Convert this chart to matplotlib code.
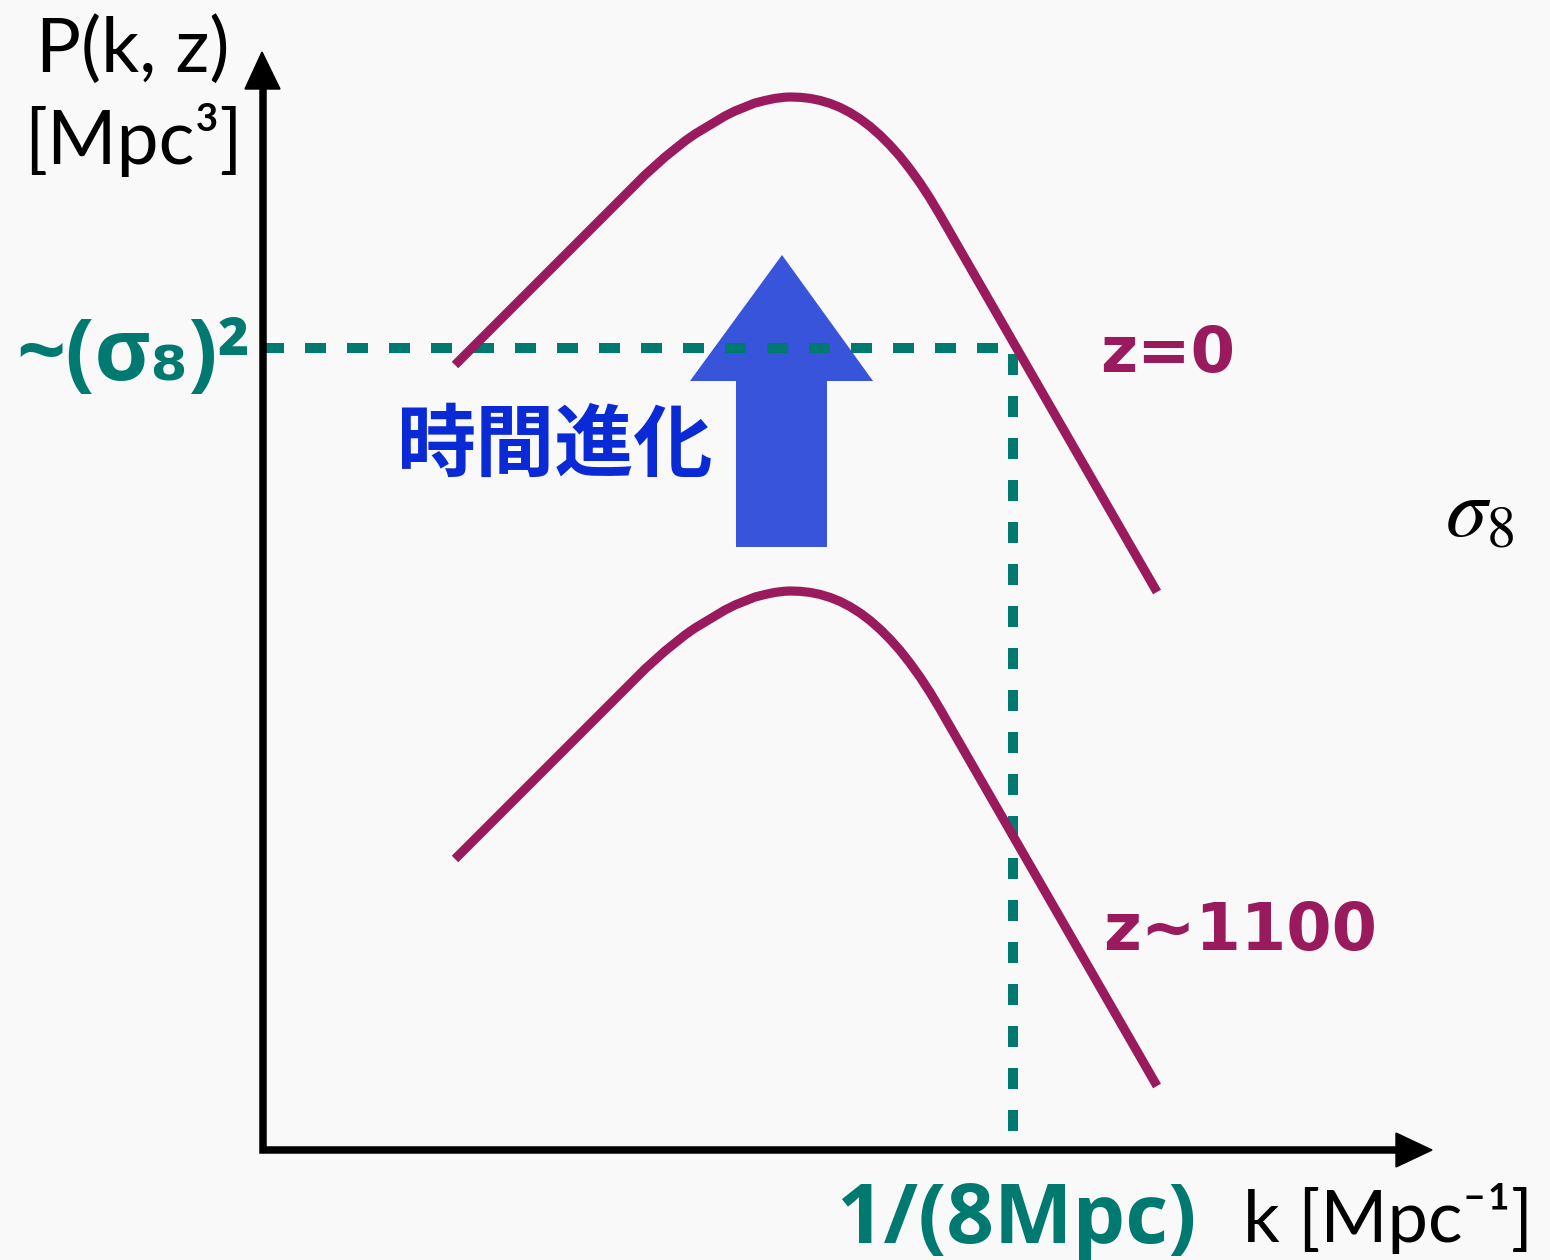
"""Schematic: growth of the matter power spectrum P(k, z) from z~1100 to z=0."""

import matplotlib
matplotlib.use("Agg")
import matplotlib.pyplot as plt
from matplotlib.patches import Polygon

plt.rcParams["mathtext.fontset"] = "stix"

# diagram units = pixels of the 1550x1260 canvas, y grows downward
K_POINTS = [455, 635, 645, 655, 665, 675, 685, 695, 705, 715, 725, 735, 745, 755, 765,
            775, 785, 790, 800, 810, 820, 830, 840, 850, 860, 870, 880, 890, 900, 910,
            920, 930, 940, 1157]
P_Z0 = [365, 185, 175, 166, 157, 149, 141, 134, 128, 122, 116, 111, 107, 103, 100.5,
        98.4, 97.2, 97, 97.3, 98.4, 100.4, 103.4, 107.4, 112.6, 118.9, 126.4, 135.2, 145.2,
        156.4, 169.1, 183, 198.3, 215, 592]
P_Z1100 = [859, 679, 669, 660, 651, 643, 635, 628, 622, 616, 610, 605, 601, 597, 594.5,
           592.4, 591.2, 591, 591.3, 592.4, 594.4, 597.4, 601.4, 606.6, 612.9, 620.4,
           629.2, 639.2, 650.4, 663.1, 677, 692.3, 709, 1086]

SIGMA8_K = 1013          # k = 1/(8 Mpc)
SIGMA8_P = 348           # ~(sigma_8)^2 level
ORIGIN = (263, 1150)
Y_AXIS_TOP = 88
X_AXIS_RIGHT = 1398

MAGENTA = "#9A1A5E"
TEAL = "#007A70"
ARROW_BLUE = "#3854DB"
TEXT_BLUE = "#0A2AD5"
BG = "#F9F9F9"

fig = plt.figure(figsize=(15.5, 12.6), dpi=100, facecolor=BG)
ax = fig.add_axes([0, 0, 1, 1])
ax.set_xlim(0, 1550)
ax.set_ylim(1260, 0)
ax.set_facecolor(BG)
ax.axis("off")

# axes with arrow heads
ax.plot([ORIGIN[0], ORIGIN[0], X_AXIS_RIGHT], [Y_AXIS_TOP, ORIGIN[1], ORIGIN[1]],
        color="black", lw=5.4, solid_joinstyle="miter", solid_capstyle="butt", zorder=3)
ax.add_patch(Polygon([(262, 52), (245, 89), (280, 89)], closed=True, color="black", zorder=3))
ax.add_patch(Polygon([(1432, 1150), (1396, 1133), (1396, 1167)], closed=True, color="black", zorder=3))

# time-evolution arrow
ax.add_patch(Polygon([(782, 255), (873, 381), (827, 381), (827, 547),
                      (736, 547), (736, 381), (690, 381)],
                     closed=True, color=ARROW_BLUE, lw=0, zorder=1))

# sigma_8 guide
ax.plot([ORIGIN[0], SIGMA8_K, SIGMA8_K], [SIGMA8_P, SIGMA8_P, ORIGIN[1]],
        color=TEAL, lw=7.2, linestyle=(0, (2.1, 2.1)), dash_capstyle="butt", zorder=2)

# power spectra
for p in (P_Z0, P_Z1100):
    ax.plot(K_POINTS, p, color=MAGENTA, lw=6.6, solid_capstyle="butt",
            solid_joinstyle="round", zorder=4)

sans = ["Lato", "DejaVu Sans"]
ax.text(133, 72, "P(k, z)", fontsize=54, family=sans, ha="center", va="baseline")
ax.text(133, 164, "[Mpc³]", fontsize=54, family=sans, ha="center", va="baseline")
ax.text(1243, 1242, "k [Mpc⁻¹]", fontsize=52, family=sans, ha="left", va="baseline")

bold = ["Open Sans", "DejaVu Sans"]
ax.text(250, 380, "~(σ₈)²", fontsize=62, family=bold, fontweight="bold",
        color=TEAL, ha="right", va="baseline")
ax.text(836, 1243, "1/(8Mpc)", fontsize=60, family=bold, fontweight="bold",
        color=TEAL, ha="left", va="baseline")

ax.text(1100, 372, "z=0", fontsize=46, family="DejaVu Sans", fontweight="bold",
        color=MAGENTA, ha="left", va="baseline")
ax.text(1103, 950, "z~1100", fontsize=47, family="DejaVu Sans", fontweight="bold",
        color=MAGENTA, ha="left", va="baseline")

ax.text(396, 446, "時間進化", fontsize=57, family=["Noto Sans CJK JP", "DejaVu Sans"],
        fontweight="bold", color=TEXT_BLUE, ha="left", va="center")

ax.text(1445, 536, r"$\sigma_8$", fontsize=60, ha="left", va="baseline")

fig.savefig("out.png", dpi=100, facecolor=BG)
plt.close(fig)
